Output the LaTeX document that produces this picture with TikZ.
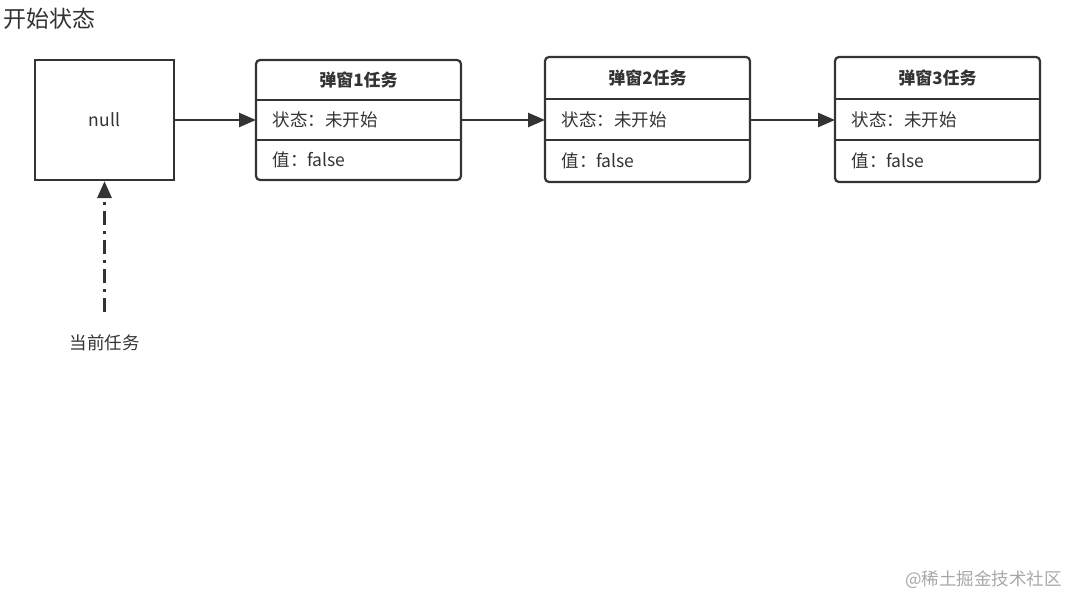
\documentclass[tikz,border=0pt]{standalone}
\usepackage{fontspec}
\setmainfont{Noto Sans CJK SC}
\usetikzlibrary{arrows.meta}
\definecolor{ink}{HTML}{333333}
\definecolor{wm}{HTML}{A8A8A8}
\tikzset{
  hdr/.style={font=\fontsize{17}{19}\selectfont\bfseries, text=ink},
  rowtxt/.style={font=\fontsize{17.5}{19}\selectfont, text=ink, anchor=west},
  frame/.style={draw=ink, line width=2.2pt},
  link/.style={draw=ink, line width=2.6pt, -{Triangle[length=17pt,width=14pt]}},
}
\begin{document}
\begin{tikzpicture}[x=1pt,y=-1pt]
\useasboundingbox (0,0) rectangle (1080,608);
% title
\node[anchor=west, text=ink, font=\fontsize{23}{25}\selectfont, inner sep=0pt] (title) at (3,19) {开始状态};
% null box
\node[frame, minimum width=139pt, minimum height=120pt, inner sep=0pt,
      font=\fontsize{17.5}{19}\selectfont, text=ink] (nullbox) at (104.5,120) {null};
% task boxes
\foreach \i/\x/\yt/\yb in {1/256/60/180, 2/545/57/182, 3/835/57/182}{
  \pgfmathsetmacro{\ya}{\yt+(\yb-\yt)/3}
  \pgfmathsetmacro{\yb}{\yt+2*(\yb-\yt)/3}
  \pgfmathsetmacro{\yc}{\yt+(\yb-\yt)*1.5}
  \draw[frame, rounded corners=4pt] (\x,\yt) rectangle ++(205,{(\yb-\yt)*1.5});
  \draw[frame] (\x,\ya) -- ++(205,0);
  \draw[frame] (\x,\yb) -- ++(205,0);
  \node[hdr] (h\i) at ({\x+102.5},{(\yt+\ya)/2}) {弹窗\i 任务};
  \node[rowtxt] (s\i) at ({\x+13},{(\ya+\yb)/2}) {状态：未开始};
  \node[rowtxt] (v\i) at ({\x+13},{(\yb+\yc)/2}) {值：false};
  \coordinate (L\i) at (\x,120);
  \coordinate (R\i) at ({\x+205},120);
}
\draw[link] (nullbox.east) -- (L1);
\draw[link] (R1) -- (L2);
\draw[link] (R2) -- (L3);
% current task pointer
\node[text=ink, font=\fontsize{17.5}{19}\selectfont, inner sep=0pt] (cur) at (104.5,343) {当前任务};
\coordinate (curtop) at (104.5,312);
\draw[draw=ink, line width=3.2pt, dash pattern=on 14pt off 6pt on 3pt off 6pt,
      -{Triangle[length=17pt,width=14pt]}] (curtop) -- (nullbox.south);
% watermark
\node[anchor=east, text=wm, font=\fontsize{17.5}{19}\selectfont, inner sep=0pt] (wmk) at (1062,580) {@稀土掘金技术社区};
\end{tikzpicture}
\end{document}
